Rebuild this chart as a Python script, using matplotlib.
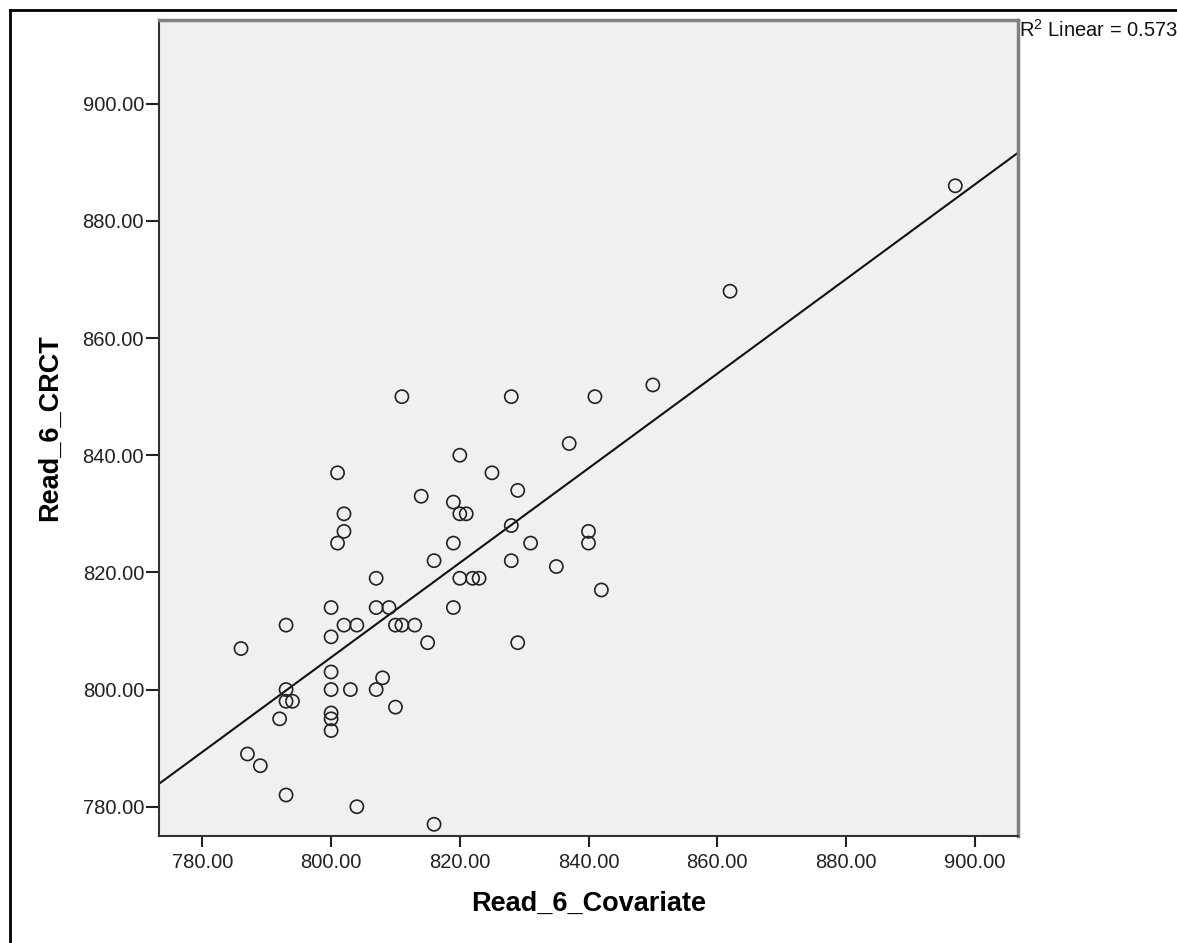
import numpy as np
import matplotlib
matplotlib.use("Agg")
import matplotlib.pyplot as plt
from matplotlib.lines import Line2D

# Data
read_6_covariate = [786, 793, 800, 800, 802, 804, 807, 809, 810, 811, 813,
                    800, 793, 800, 803, 807, 808, 793, 794, 792, 800, 800,
                    800, 810, 787, 789, 793, 804, 819, 815, 829, 816, 811,
                    801, 802, 802, 801, 807, 828, 841, 850, 837, 820, 825,
                    814, 829, 819, 820, 821, 828, 840, 840, 819, 831, 816,
                    828, 835, 820, 822, 823, 842, 862, 897]
read_6_crct = [807, 811, 814, 809, 811, 811, 814, 814, 811, 811, 811,
               803, 800, 800, 800, 800, 802, 798, 798, 795, 796, 795,
               793, 797, 789, 787, 782, 780, 814, 808, 808, 777, 850,
               837, 830, 827, 825, 819, 850, 850, 852, 842, 840, 837,
               833, 834, 832, 830, 830, 828, 827, 825, 825, 825, 822,
               822, 821, 819, 819, 819, 817, 868, 886]
x_ticks = [780, 800, 820, 840, 860, 880, 900]
y_ticks = [780, 800, 820, 840, 860, 880, 900]
x_label = "Read_6_Covariate"
y_label = "Read_6_CRCT"
r2_text = "R$^2$ Linear = 0.573"

plt.rcParams['font.family'] = ['Liberation Sans', 'DejaVu Sans']
plt.rcParams['mathtext.fontset'] = 'custom'
plt.rcParams['mathtext.rm'] = 'Liberation Sans'

W, H = 1177, 943
fig = plt.figure(figsize=(W / 100, H / 100), dpi=100)
fig.patch.set_facecolor('white')

left_px, right_px, top_px, bottom_px = 159.3, 1017.7, 20, 836
ax = fig.add_axes([left_px / W, 1 - bottom_px / H,
                   (right_px - left_px) / W, (bottom_px - top_px) / H])
ax.set_facecolor('#F0F0F0')

x = np.array(read_6_covariate, dtype=float)
y = np.array(read_6_crct, dtype=float)

ax.set_xlim(773.3, 906.7)
ax.set_ylim(775.0, 914.3)

slope, intercept = np.polyfit(x, y, 1)
xl = np.array(ax.get_xlim())
ax.plot(xl, intercept + slope * xl, color='#111111', lw=1.5, zorder=2)

ax.scatter(x, y, s=90, facecolors='none', edgecolors='#222222',
           linewidths=1.2, zorder=3)

ax.set_xticks(x_ticks)
ax.set_yticks(y_ticks)
ax.set_xticklabels([f"{v:.2f}" for v in x_ticks])
ax.set_yticklabels([f"{v:.2f}" for v in y_ticks])
ax.tick_params(axis='x', direction='out', length=8, width=1.5,
               color='#222222', labelsize=14.5, labelcolor='#222222', pad=4)
ax.tick_params(axis='y', direction='out', length=9.5, width=1.5,
               color='#222222', labelsize=14.5, labelcolor='#222222', pad=1.5)

for s in ['left', 'bottom']:
    ax.spines[s].set_color('#333333')
    ax.spines[s].set_linewidth(1.5)
for s in ['top', 'right']:
    ax.spines[s].set_color('#808080')
    ax.spines[s].set_linewidth(2.5)

ax.set_xlabel(x_label, fontsize=19.5, fontweight='bold', labelpad=14)
ax.set_ylabel(y_label, fontsize=19.5, fontweight='bold', labelpad=14)

fig.text(right_px / W + 0.001, 1 - 30 / H, r2_text, fontsize=14.5,
         ha='left', va='center', color='#111111')

# outer frame
fig.add_artist(Line2D([10 / W, 10 / W], [0, 1 - 10 / H], transform=fig.transFigure,
                      color='black', lw=2))
fig.add_artist(Line2D([10 / W, 1], [1 - 10 / H, 1 - 10 / H], transform=fig.transFigure,
                      color='black', lw=2))

fig.savefig("out.png", dpi=100)
